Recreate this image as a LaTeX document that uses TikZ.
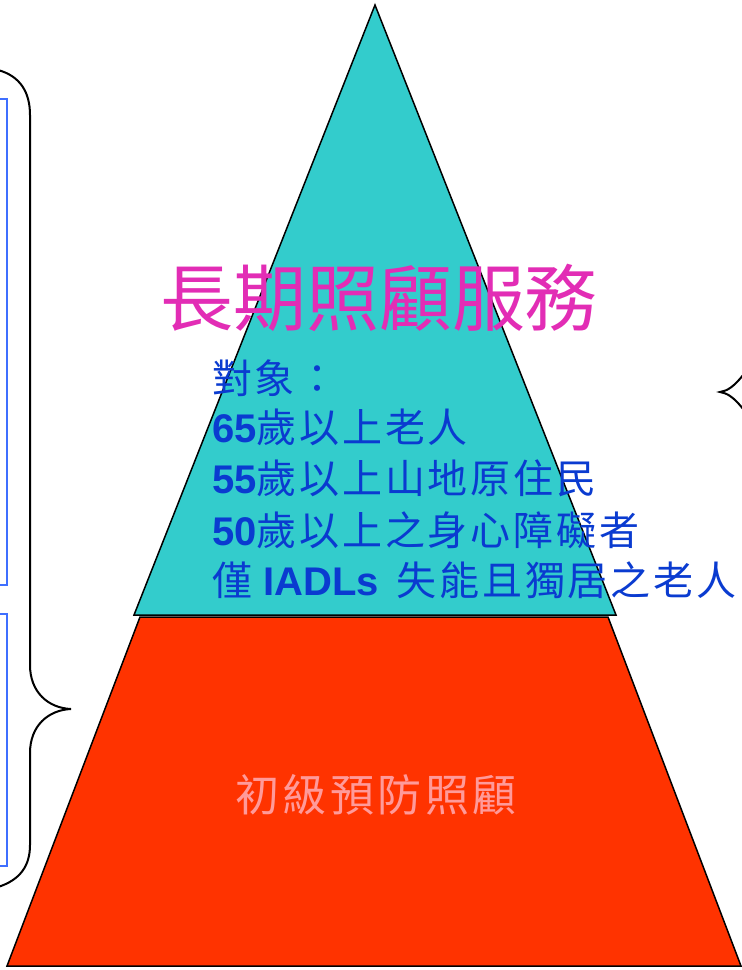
\documentclass[tikz,border=0pt]{standalone}
\usepackage{fontspec}
\setmainfont{Liberation Sans}
\newfontfamily\cjk{Noto Sans CJK TC}
\newfontfamily\cjklist[LetterSpace=7]{Noto Sans CJK TC}
\newfontfamily\cjkbase[LetterSpace=8]{Noto Sans CJK TC}
\definecolor{topcyan}{HTML}{33CCCC}
\definecolor{baseorange}{HTML}{FF3300}
\definecolor{titlepink}{HTML}{E22DB5}
\definecolor{listblue}{HTML}{0A3BD0}
\definecolor{basepink}{HTML}{FF9A9A}
\definecolor{boxblue}{HTML}{3F6FFF}
\tikzset{
  layer/.style={draw=black, line width=1.5pt},
  curly/.style={draw=black, line width=2pt},
  sidebox/.style={draw=boxblue, line width=2.5pt},
  listline/.style={anchor=base west, inner sep=0pt, text=listblue,
    font=\fontsize{40}{48}\selectfont}
}

\begin{document}
\begin{tikzpicture}[x=1pt,y=-1pt]
	%%%%% START %%%%%
	\useasboundingbox (0,0) rectangle (742,970);
	\clip (0,0) rectangle (742,970);
	
	% left boxes and brace
	\draw[sidebox] (-20,99) rectangle (7,585);
	\draw[sidebox] (-20,614) rectangle (7,866);
	\draw[curly] (-2,70) .. controls (20,76) and (30,92) .. (30,115) -- (30,665)
		.. controls (30,692) and (48,708) .. (71,709)
		.. controls (48,710) and (30,726) .. (30,753) -- (30,845)
		.. controls (30,866) and (20,880) .. (-2,887);
	
	% pyramid
	\draw[layer, fill=baseorange] (140,617) -- (608,617) -- (741,966) -- (7,966) -- cycle;
	\draw[layer, fill=topcyan] (375,5) -- (616,615) -- (134,615) -- cycle;
	
	% right brace
	\draw[curly] (760,352) .. controls (745,372) and (735,390) .. (720,392)
		.. controls (735,394) and (745,412) .. (760,432);
	
	\node[inner sep=0pt, text=titlepink, font=\cjk\fontsize{73}{80}\selectfont] (title) at (379,298) {長期照顧服務};
	
	\node[listline] (target) at (212,393) {\cjklist 對象：};
	\node[listline] (age65) at (212,442) {{\bfseries 65}\cjklist 歲以上老人};
	\node[listline] (age55) at (212,493) {{\bfseries 55}\cjklist 歲以上山地原住民};
	\node[listline] (age50) at (212,545) {{\bfseries 50}\cjklist 歲以上之身心障礙者};
	\node[listline] (iadls) at (212,595) {{\cjklist 僅}\hspace{11pt}{\bfseries IADLs}\hspace{18pt}{\cjklist 失能且獨居之老人}};
	
	\node[inner sep=0pt, text=basepink, font=\cjkbase\fontsize{44}{50}\selectfont] (primary) at (376,795) {初級預防照顧};
	%%%%% END %%%%%
\end{tikzpicture}
\end{document}
